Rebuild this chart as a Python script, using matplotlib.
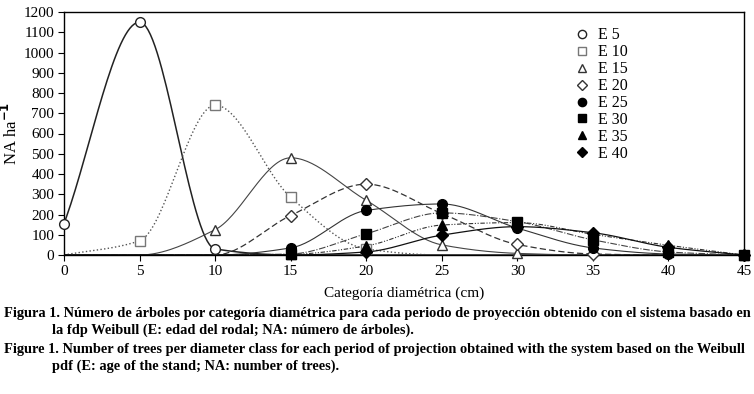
import numpy as np
import matplotlib
matplotlib.use("Agg")
import matplotlib.pyplot as plt

plt.rcParams["font.family"] = ["Liberation Serif", "DejaVu Serif"]

# diameter classes (cm)
diam = [0, 5, 10, 15, 20, 25, 30, 35, 40, 45]

# trees per hectare for each stand age
e5 = [155, 1150, 30, 0, 0, 0, 0, 0, 0, 0]
e10 = [0, 70, 740, 285, 30, 0, 0, 0, 0, 0]
e15 = [0, 0, 125, 480, 270, 50, 8, 0, 0, 0]
e20 = [0, 0, 0, 195, 350, 205, 52, 5, 0, 0]
e25 = [0, 0, 0, 35, 220, 252, 133, 35, 5, 0]
e30 = [0, 0, 0, 5, 105, 208, 165, 75, 15, 0]
e35 = [0, 0, 0, 3, 45, 148, 160, 102, 48, 0]
e40 = [0, 0, 0, 0, 15, 98, 140, 110, 38, 0]

labels = ["E 5", "E 10", "E 15", "E 20", "E 25", "E 30", "E 35", "E 40"]


def smooth(x, y, n=300):
    # monotone cubic hermite (Fritsch-Carlson), just to draw the curve
    x = np.asarray(x, float)
    y = np.asarray(y, float)
    h = np.diff(x)
    d = np.diff(y) / h
    m = np.zeros_like(y)
    m[0], m[-1] = d[0], d[-1]
    for i in range(1, len(y) - 1):
        if d[i - 1] * d[i] > 0:
            w1 = 2 * h[i] + h[i - 1]
            w2 = h[i] + 2 * h[i - 1]
            m[i] = (w1 + w2) / (w1 / d[i - 1] + w2 / d[i])
    xs = np.linspace(x[0], x[-1], n)
    k = np.clip(np.searchsorted(x, xs) - 1, 0, len(x) - 2)
    t = (xs - x[k]) / h[k]
    h00 = 2 * t**3 - 3 * t**2 + 1
    h10 = t**3 - 2 * t**2 + t
    h01 = -2 * t**3 + 3 * t**2
    h11 = t**3 - t**2
    ys = h00 * y[k] + h10 * h[k] * m[k] + h01 * y[k + 1] + h11 * h[k] * m[k + 1]
    return xs, ys


series = [e5, e10, e15, e20, e25, e30, e35, e40]
styles = [
    dict(marker="o", mfc="white", mec="#222222", ls="-", lc="#222222", lw=1.1),
    dict(marker="s", mfc="white", mec="#777777", ls=":", lc="#555555", lw=1.0),
    dict(marker="^", mfc="white", mec="#333333", ls="-", lc="#444444", lw=0.8),
    dict(marker="D", mfc="white", mec="#333333", ls=(0, (5, 2.5)), lc="#333333", lw=0.9),
    dict(marker="o", mfc="black", mec="black", ls="-", lc="#333333", lw=0.8),
    dict(marker="s", mfc="black", mec="black", ls=(0, (6, 1.5, 1, 1.5)), lc="#444444", lw=0.8),
    dict(marker="^", mfc="black", mec="black", ls=(0, (4, 1.5, 1, 1.5, 1, 1.5)), lc="#333333", lw=0.8),
    dict(marker="D", mfc="black", mec="black", ls="-", lc="#111111", lw=0.9),
]
msizes = [7, 6.5, 7.5, 6, 7, 6.5, 7.5, 6]

fig = plt.figure(figsize=(7.54, 3.94), dpi=100)
ax = fig.add_axes([64 / 754, 1 - 255 / 394, 680 / 754, 243 / 394])

for i, (y, lab, st, ms) in enumerate(zip(series, labels, styles, msizes)):
    xs, ys = smooth(diam, y)
    ax.plot(xs, ys, color=st["lc"], ls=st["ls"], lw=st["lw"], zorder=2)
    # markers are only drawn where the figure shows them
    xm = [d for d, v in zip(diam, y) if v > 0 or (d == 45 and i >= 4)]
    ym = [v for d, v in zip(diam, y) if v > 0 or (d == 45 and i >= 4)]
    ax.plot(xm, ym, ls="none", marker=st["marker"], ms=ms,
            mfc=st["mfc"], mec=st["mec"], mew=1.0, label=lab,
            zorder=4 if i == 5 else 3, clip_on=False)

ax.set_xlim(0, 45)
ax.set_ylim(0, 1200)
ax.set_xticks(range(0, 46, 5))
ax.set_yticks(range(0, 1201, 100))
ax.tick_params(direction="out", length=4, width=0.8, labelsize=11, pad=3)
for s in ax.spines.values():
    s.set_linewidth(1.0)

ax.set_xlabel("Categoría diamétrica (cm)", fontsize=11, labelpad=6)
ax.set_ylabel("NA ha$^{\\mathbf{-1}}$", fontsize=12, labelpad=2)

leg = ax.legend(loc="upper left", bbox_to_anchor=(0.739, 0.97), frameon=False, fontsize=11.5,
                handletextpad=0.45, labelspacing=0.06, handlelength=1.0, borderpad=0,
                markerscale=0.85)

cap = dict(fontsize=10.4, fontweight="bold", ha="left", va="baseline")
fig.text(4 / 754, 1 - 317 / 394, "Figura 1. Número de árboles por categoría diamétrica para cada periodo de proyección obtenido con el sistema basado en", **cap)
fig.text(52 / 754, 1 - 334 / 394, "la fdp Weibull (E: edad del rodal; NA: número de árboles).", **cap)
fig.text(4 / 754, 1 - 353 / 394, "Figure 1. Number of trees per diameter class for each period of projection obtained with the system based on the Weibull", **cap)
fig.text(52 / 754, 1 - 370 / 394, "pdf (E: age of the stand; NA: number of trees).", **cap)

fig.savefig("out.png", dpi=100)
